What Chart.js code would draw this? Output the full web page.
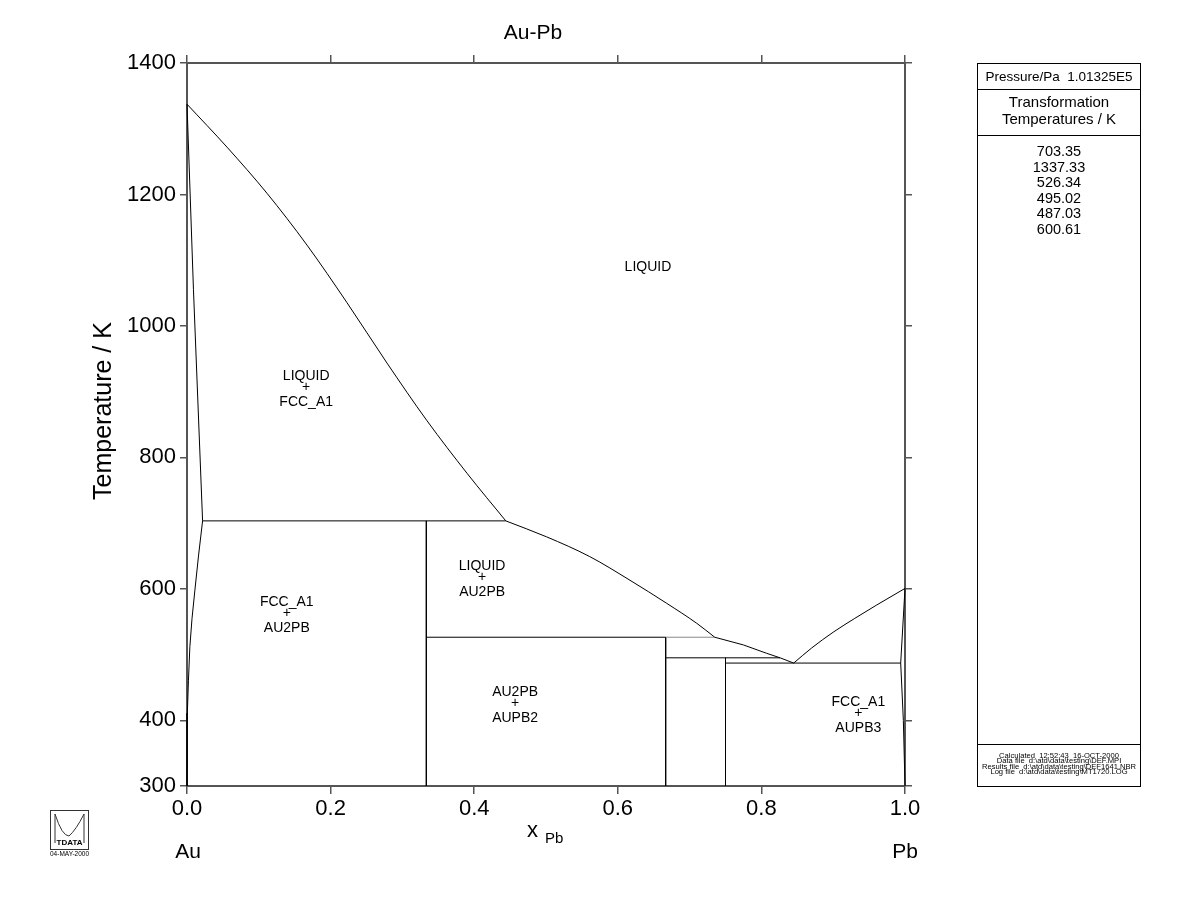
<!DOCTYPE html>
<html>
<head>
<meta charset="utf-8">
<script src="https://cdn.jsdelivr.net/npm/chart.js@4.4.1/dist/chart.umd.min.js"></script>
<style>
  html, body { margin: 0; padding: 0; background: #fff; }
  #wrap { position: relative; width: 1200px; height: 923px; }
</style>
</head>
<body>
<div id="wrap"><canvas id="c" width="1200" height="923"></canvas></div>
<script>
// ---------- data (x = mole fraction Pb, T in K) ----------
const xTicks = [0, 0.2, 0.4, 0.6, 0.8, 1.0];
const yTicks = [300, 400, 600, 800, 1000, 1200, 1400];

const liquidusAu  = [[0,1337.33],[0.0557,1272],[0.1114,1201.8],[0.1671,1123],[0.2228,1035.4],[0.2786,943.4],[0.3343,855.7],[0.39,775.8],[0.444,703.35]];
const solidusAu   = [[0,1337.33],[0.009,1055],[0.0217,703.35]];
const solvusAu    = [[0.0217,703.35],[0.016,650],[0.011,598],[0.007,555],[0.004,512],[0.002,460],[0.0005,411],[0,330],[0,300]];
const peri703     = [[0.0217,703.35],[0.444,703.35]];
const au2pbLine   = [[1/3,703.35],[1/3,300]];
const liquidusMid = [[0.444,703.35],[0.501,679],[0.561,649],[0.617,613],[0.668,578],[0.71,547.5],[0.735,526.34]];
const peri526a    = [[1/3,526.34],[2/3,526.34]];
const peri526b    = [[2/3,526.34],[0.735,526.34]];
const aupb2Line   = [[2/3,526.34],[2/3,300]];
const liquidusLow = [[0.735,526.34],[0.775,514.6],[0.807,502],[0.826,495.02],[0.845,487.03]];
const peri495     = [[2/3,495.02],[0.826,495.02]];
const aupb3Line   = [[0.75,495.02],[0.75,300]];
const eut487      = [[0.75,487.03],[0.994,487.03]];
const liquidusPb  = [[0.845,487.03],[0.87,510],[0.9,534],[0.93,555],[0.96,575],[1,600.61]];
const solidusPb   = [[1,600.61],[0.994,487.03]];
const solvusPb    = [[0.994,487.03],[0.9977,400],[1,300]];

const transTemps = ['703.35','1337.33','526.34','495.02','487.03','600.61'];

const phaseLabels = [
  { lines: ['LIQUID'], x: 0.642, y: 1090 },
  { lines: ['LIQUID','+','FCC_A1'], x: 0.166, y: 907 },
  { lines: ['LIQUID','+','AU2PB'], x: 0.411, y: 618 },
  { lines: ['FCC_A1','+','AU2PB'], x: 0.139, y: 563 },
  { lines: ['AU2PB','+','AUPB2'], x: 0.457, y: 426 },
  { lines: ['FCC_A1','+','AUPB3'], x: 0.935, y: 411 }
];

// ---------- chart ----------
const FONT = "'Liberation Sans', Arial, Helvetica, sans-serif";
const toPts = a => a.map(p => ({ x: p[0], y: p[1] }));
function ds(arr, opts) {
  return Object.assign({
    data: toPts(arr), showLine: true, pointRadius: 0, borderColor: '#000',
    borderWidth: 1, tension: 0, clip: 3, fill: false
  }, opts || {});
}
const smooth = { cubicInterpolationMode: 'monotone' };
const datasets = [
  ds(liquidusAu, smooth), ds(solidusAu), ds(solvusAu),
  ds(peri703), ds(au2pbLine), ds(liquidusMid, smooth),
  ds(peri526a), ds(peri526b, { borderColor: '#888' }), ds(aupb2Line),
  ds(liquidusLow), ds(peri495), ds(aupb3Line), ds(eut487),
  ds(liquidusPb, smooth), ds(solidusPb), ds(solvusPb)
];

const FRAME = '#555';
function fixW(w) { return s => { s.width = w; }; }
function fixH(h) { return s => { s.height = h; }; }

const textPlugin = {
  id: 'texts',
  afterDraw(chart) {
    const ctx = chart.ctx;
    const xs = chart.scales.x, ys = chart.scales.y;
    ctx.save();
    ctx.fillStyle = '#000';
    ctx.textAlign = 'center';
    ctx.textBaseline = 'middle';
    // phase labels
    ctx.font = '14px ' + FONT;
    phaseLabels.forEach(l => {
      const px = xs.getPixelForValue(l.x), py = ys.getPixelForValue(l.y);
      if (l.lines.length === 1) { ctx.fillText(l.lines[0], px, py); return; }
      ctx.fillText(l.lines[0], px, py - 11);
      ctx.fillText(l.lines[1], px, py);
      ctx.fillText(l.lines[2], px, py + 15);
    });
    // title
    ctx.font = '21px ' + FONT;
    ctx.fillText('Au-Pb', 533, 33);
    // axis titles
    ctx.font = '25px ' + FONT;
    ctx.save();
    ctx.translate(104, 411);
    ctx.rotate(-Math.PI / 2);
    ctx.fillText('Temperature / K', 0, 0);
    ctx.restore();
    ctx.textAlign = 'left';
    ctx.font = '22px ' + FONT;
    ctx.fillText('x', 527, 831);
    ctx.font = '15px ' + FONT;
    ctx.fillText('Pb', 545, 839);
    ctx.textAlign = 'center';
    ctx.font = '21px ' + FONT;
    ctx.fillText('Au', 188, 852);
    ctx.fillText('Pb', 905, 852);

    // right info panel
    ctx.strokeStyle = '#000';
    ctx.lineWidth = 1;
    ctx.strokeRect(977.5, 63.5, 163, 723);
    ctx.beginPath();
    ctx.moveTo(977.5, 89.5); ctx.lineTo(1140.5, 89.5);
    ctx.moveTo(977.5, 135.5); ctx.lineTo(1140.5, 135.5);
    ctx.moveTo(977.5, 744.5); ctx.lineTo(1140.5, 744.5);
    ctx.stroke();
    const cx = 1059;
    ctx.font = '13.5px ' + FONT;
    ctx.fillText('Pressure/Pa  1.01325E5', cx, 77);
    ctx.font = '15px ' + FONT;
    ctx.fillText('Transformation', cx, 103);
    ctx.fillText('Temperatures / K', cx, 120);
    ctx.font = '14.5px ' + FONT;
    transTemps.forEach((t, i) => ctx.fillText(t, cx, 152 + i * 15.5));
    ctx.font = '7.6px ' + FONT;
    ctx.fillText('Calculated  12:52:43  16-OCT-2000', cx, 755.5);
    ctx.fillText('Data file  d:\\atd\\data\\testing\\DEF.MPI', cx, 761);
    ctx.fillText('Results file  d:\\atd\\data\\testing\\DEF1641.NBR', cx, 766.5);
    ctx.fillText('Log file  d:\\atd\\data\\testing\\MT1720.LOG', cx, 772);

    // logo
    ctx.strokeStyle = '#333';
    ctx.lineWidth = 1;
    ctx.strokeRect(50.5, 810.5, 38, 39);
    ctx.beginPath();
    ctx.moveTo(55, 843); ctx.lineTo(55, 814);
    ctx.quadraticCurveTo(62, 836, 69, 836);
    ctx.quadraticCurveTo(76, 830, 84, 814);
    ctx.lineTo(84, 843);
    ctx.stroke();
    ctx.font = 'bold 8px ' + FONT;
    ctx.fillText('TDATA', 69.5, 843);
    ctx.font = '6.5px ' + FONT;
    ctx.fillText('04-MAY-2000', 69.5, 854);
    ctx.restore();
  }
};

new Chart(document.getElementById('c'), {
  type: 'scatter',
  data: { datasets },
  plugins: [textPlugin],
  options: {
    responsive: false,
    devicePixelRatio: 1,
    animation: false,
    layout: { padding: { left: 0, top: 63, right: 295, bottom: 87 } },
    plugins: { legend: { display: false }, tooltip: { enabled: false }, title: { display: false } },
    scales: {
      x: {
        type: 'linear', position: 'bottom', min: 0, max: 1,
        afterBuildTicks: s => { s.ticks = xTicks.map(v => ({ value: v })); },
        afterFit: fixH(50),
        ticks: { callback: v => Number(v).toFixed(1), color: '#000', font: { size: 22, family: FONT }, padding: 2, maxRotation: 0, autoSkip: false },
        grid: { drawOnChartArea: false, tickLength: 8, color: FRAME, lineWidth: 1.5 },
        border: { color: FRAME, width: 2 }
      },
      x2: {
        type: 'linear', position: 'top', min: 0, max: 1,
        afterBuildTicks: s => { s.ticks = xTicks.map(v => ({ value: v })); },
        afterFit: fixH(0),
        ticks: { display: false },
        grid: { drawOnChartArea: false, tickLength: 8, color: FRAME, lineWidth: 1.5 },
        border: { color: FRAME, width: 2 }
      },
      y: {
        type: 'linear', position: 'left', min: 300, max: 1400,
        afterBuildTicks: s => { s.ticks = yTicks.map(v => ({ value: v })); },
        afterFit: fixW(187),
        ticks: { callback: v => String(v), color: '#000', font: { size: 22, family: FONT }, padding: 4, autoSkip: false },
        grid: { drawOnChartArea: false, tickLength: 7, color: FRAME, lineWidth: 1.5 },
        border: { color: FRAME, width: 2 }
      },
      y2: {
        type: 'linear', position: 'right', min: 300, max: 1400,
        afterBuildTicks: s => { s.ticks = yTicks.map(v => ({ value: v })); },
        afterFit: fixW(0),
        ticks: { display: false },
        grid: { drawOnChartArea: false, tickLength: 7, color: FRAME, lineWidth: 1.5 },
        border: { color: FRAME, width: 2 }
      }
    }
  }
});
</script>
</body>
</html>
